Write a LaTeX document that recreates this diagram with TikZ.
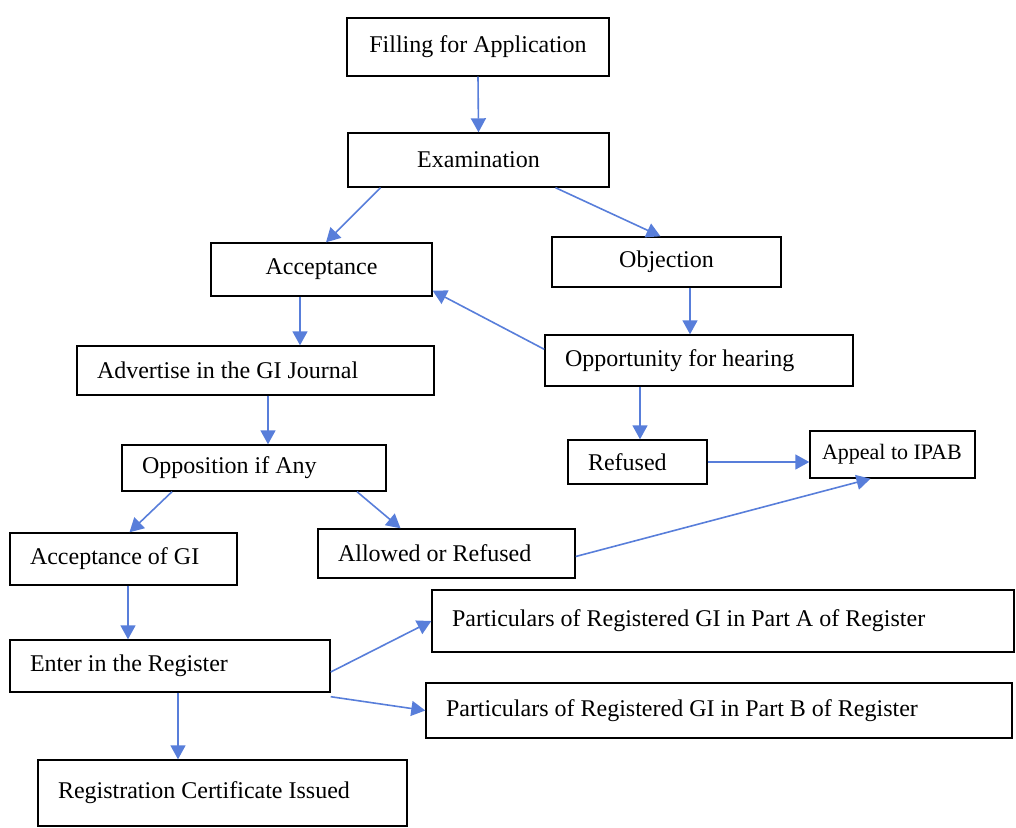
\documentclass[tikz,border=0pt]{standalone}
\usepackage{fontspec}
\setmainfont{Liberation Serif}
\usetikzlibrary{arrows.meta,positioning}
\definecolor{arrblue}{RGB}{88,126,218}

\begin{document}
\begin{tikzpicture}[x=1pt, y=-1pt,
  nbox/.style={draw, line width=1.4pt, inner xsep=20pt, inner ysep=0pt,
    font=\fontsize{24}{27}\selectfont,
    execute at begin node={\spaceskip=0.25em\relax}},
  nc/.style={nbox, align=center},
  nl/.style={nbox, align=left},
  arr/.style={draw=arrblue, line width=1.6pt, -{Triangle[length=14pt,width=15pt,fill=arrblue]}}
 ]
  \useasboundingbox (0,0) rectangle (1016,827);

  \node [nc, text width=222pt, minimum height=58pt] (fill) at (478,47) {Filling for Application};
  \node [nc, text width=221pt, minimum height=54pt] (exam) at (478.5,160) {Examination};
  \node [nc, text width=181pt, minimum height=53pt] (acc) at (321.5,269.5) {Acceptance};
  \node [nc, text width=189pt, minimum height=50pt] (obj) at (666.5,262) {Objection};
  \node [nl, text width=317pt, minimum height=49pt] (adv) at (255.5,370.5) {Advertise in the GI Journal};
  \node [nl, text width=268pt, minimum height=51pt] (hear) at (699,360.5) {Opportunity for hearing};
  \node [nl, text width=224pt, minimum height=46pt] (oppo) at (254,468) {Opposition if Any};
  \node [nl, text width=99pt, minimum height=44pt] (ref) at (637.5,462) {Refused};
  \node [nl, inner xsep=12pt, text width=141pt, minimum height=47pt, font=\fontsize{22}{26}\selectfont] (ipab) at (892.5,454.5) {Appeal to IPAB};
  \node [nl, text width=187pt, minimum height=52pt] (accgi) at (123.5,559) {Acceptance of GI};
  \node [nl, text width=217pt, minimum height=49pt] (allow) at (446.5,553.5) {Allowed or Refused};
  \node [nl, text width=542pt, minimum height=62pt] (parta) at (723,621) {Particulars of Registered GI in Part A of Register};
  \node [nl, text width=280pt, minimum height=52pt] (enter) at (170,666) {Enter in the Register};
  \node [nl, text width=546pt, minimum height=55pt] (partb) at (719,710.5) {Particulars of Registered GI in Part B of Register};
  \node [nl, text width=329pt, minimum height=66pt] (cert) at (222.5,793) {Registration Certificate Issued};

  \draw [arr] (fill.south) -- (exam.north);
  \draw [arr] ([xshift=-98pt]exam.south) -- ([xshift=4.5pt]acc.north);
  \draw [arr] ([xshift=77pt]exam.south) -- ([xshift=-6pt]obj.north);
  \draw [arr] ([xshift=-21.5pt]acc.south) -- ([xshift=44.5pt]adv.north);
  \draw [arr] ([yshift=-15pt]hear.north west) -- ([yshift=6pt]acc.south east);
  \draw [arr] ([xshift=23.5pt]obj.south) -- ([xshift=-9pt]hear.north);
  \draw [arr] ([xshift=12.5pt]adv.south) -- ([xshift=14pt]oppo.north);
  \draw [arr] ([xshift=-59pt]hear.south) -- ([xshift=2.5pt]ref.north);
  \draw [arr] (ref.east) -- (ref.east -| ipab.west);
  \draw [arr] ([yshift=-3pt]allow.east) -- ([xshift=-22pt]ipab.south);
  \draw [arr] ([xshift=-82pt]oppo.south) -- ([xshift=6pt]accgi.north);
  \draw [arr] ([xshift=103pt]oppo.south) -- ([xshift=-46pt]allow.north);
  \draw [arr] ([xshift=4.5pt]accgi.south) -- ([xshift=-42pt]enter.north);
  \draw [arr] ([yshift=-6pt]enter.east) -- (parta.west);
  \draw [arr] ([yshift=-4pt]enter.south east) -- (partb.west);
  \draw [arr] ([xshift=8pt]enter.south) -- ([xshift=-44.5pt]cert.north);
 \end{tikzpicture}
\end{document}
